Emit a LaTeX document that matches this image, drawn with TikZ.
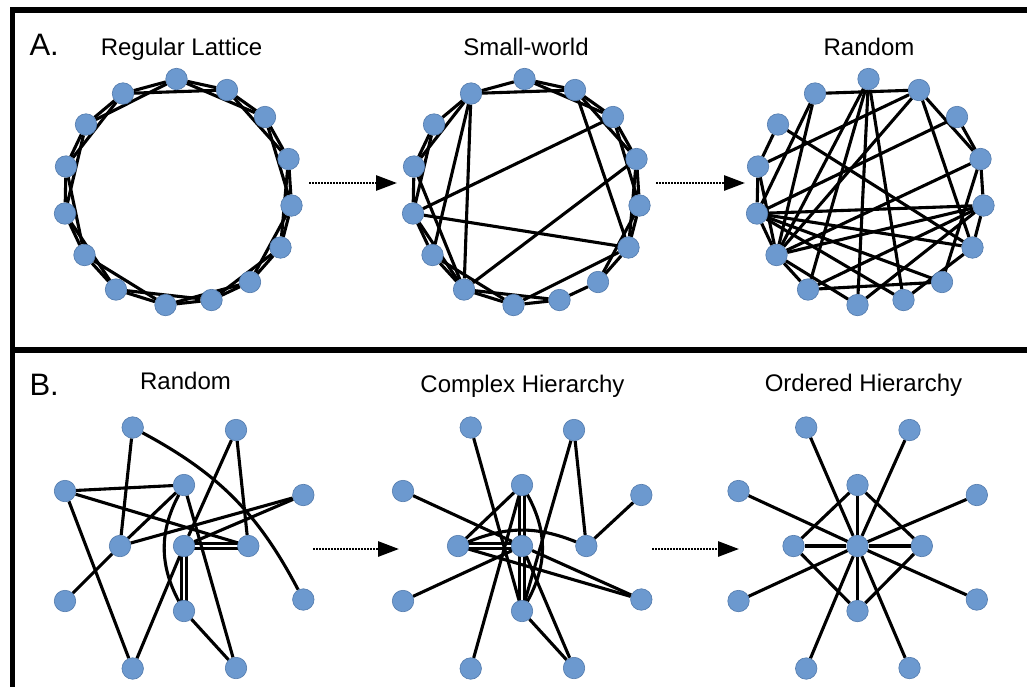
\documentclass[tikz,border=0pt]{standalone}
\usepackage{fontspec}
\setmainfont{Liberation Sans}
\usetikzlibrary{arrows.meta}
\pgfdeclarelayer{edges}
\pgfsetlayers{edges,main}
\definecolor{nodefill}{RGB}{108,153,207}
\definecolor{nodeline}{RGB}{82,122,172}
\begin{document}
\begin{tikzpicture}[x=1pt,y=-1pt,
  vert/.style={circle,fill=nodefill,draw=nodeline,line width=0.6pt,minimum size=21.5pt,inner sep=0pt},
  link/.style={line width=3.1pt,black},
  title/.style={font=\fontsize{24}{28}\selectfont,anchor=base},
  panel/.style={font=\fontsize{31}{36}\selectfont,anchor=base west},
  frame/.style={line width=5.5pt,black,line join=miter},
  flow/.style={line width=2.8pt,dash pattern=on 1.5pt off 1.5pt,-{Triangle[length=21pt,width=15pt]}}]
\useasboundingbox (0,0) rectangle (1027,686);
% frame
\coordinate (f1) at (12.5,700);
\coordinate (f2) at (12.5,10);
\coordinate (f3) at (1040,10);
\coordinate (f4) at (12.5,350);
\coordinate (f5) at (1040,350);
\draw[frame] (f1) -- (f2) -- (f3);
\draw[frame] (f4) -- (f5);
% labels
\node[panel] (lA) at (26,55) {A.};
\node[panel] (lB) at (26,395) {B.};
\node[title] (t1) at (181.5,55) {Regular Lattice};
\node[title] (t2) at (526,55) {Small-world};
\node[title] (t3) at (869,55) {Random};
\node[title] (t4) at (185.5,389) {Random};
\node[title] (t5) at (522.5,392) {Complex Hierarchy};
\node[title] (t6) at (863.5,391) {Ordered Hierarchy};
% arrows
\coordinate (p1) at (309,183); \coordinate (q1) at (397,183);
\coordinate (p2) at (656,183); \coordinate (q2) at (745,183);
\coordinate (p3) at (313,549); \coordinate (q3) at (399,549);
\coordinate (p4) at (652,549); \coordinate (q4) at (739,549);
\draw[flow] (p1) -- (q1);
\draw[flow] (p2) -- (q2);
\draw[flow] (p3) -- (q3);
\draw[flow] (p4) -- (q4);
% ring nodes
\foreach \i/\x/\y in {0/176.5/79, 1/227/90, 2/265/117, 3/288.5/159, 4/291.5/205.5,
  5/280.5/247.5, 6/250/282, 7/211.5/300, 8/165.5/305, 9/116/289.5, 10/84.5/255,
  11/65/213.5, 12/66/166.5, 13/86/124.5, 14/123/93.5} {
  \node[vert] (a\i) at (\x,\y) {};
  \node[vert] (b\i) at (\x+348,\y) {};
  \node[vert] (c\i) at (\x+692,\y) {};
}
% hierarchy nodes
\foreach \p/\s in {d/0, e/338, f/673.5} {
  \foreach \n/\x/\y in {TL/132.7/427.5, TR/236/430, L/65/491, T/184/485, R/303.3/495,
    ML/120/546, C/184/546, MR/248.3/546, BLL/65/601, B/184/611, BRR/303.3/599.5,
    BL/132.7/668.5, BR/236/668} {
    \node[vert] (\p\n) at (\x+\s,\y) {};
  }
}
\begin{pgfonlayer}{edges}
% regular lattice
\foreach \i in {0,...,14} {
  \pgfmathtruncatemacro\j{mod(\i+1,15)}
  \pgfmathtruncatemacro\k{mod(\i+2,15)}
  \draw[link] (a\i) -- (a\j);
  \draw[link] (a\i) -- (a\k);
}
% small world
\foreach \u/\v in {0/1,1/2,2/3,3/4,4/5,5/6,6/7,7/8,8/9,9/10,10/11,11/12,12/13,13/14,14/0,
  0/2,1/3,2/4,3/5,4/6,7/9,8/10,9/11,11/13,12/14,14/1,
  14/9,14/10,12/9,11/2,11/5,3/9,1/5,5/8} {
  \draw[link] (b\u) -- (b\v);
}
% random
\foreach \u/\v in {14/1,14/10,14/11,13/12,13/5,12/11,12/10,12/1,11/10,11/2,11/4,11/5,
  11/6,11/7,10/0,10/1,10/3,10/4,10/9,10/8,9/6,9/4,0/8,0/7,0/9,1/3,1/5,2/3,3/6,3/4,
  4/5,4/8,5/7} {
  \draw[link] (c\u) -- (c\v);
}
% B random
\draw[link] (dTL) -- (dML);
\draw[link] (dTL) to[bend left=17] (dBRR);
\draw[link] (dTR) -- (dMR);
\draw[link] (dTR) -- (dC);
\draw[link] (dL) -- (dT);
\draw[link] (dL) -- (dMR);
\draw[link] (dL) -- (dBL);
\draw[link] (dT) -- (dML);
\draw[link] (dT) to[bend right=28] (dB);
\draw[link] (dT) -- (dBR);
\draw[link] (dR) -- (dML);
\draw[link] (dR) -- (dC);
\draw[link] (dML) -- (dBLL);
\draw[link] ([yshift=-2.2pt]dC.center) -- ([yshift=-2.2pt]dMR.center);
\draw[link] ([yshift=2.2pt]dC.center) -- ([yshift=2.2pt]dMR.center);
\draw[link] ([xshift=-2.2pt]dC.center) -- ([xshift=-2.2pt]dB.center);
\draw[link] ([xshift=2.2pt]dC.center) -- ([xshift=2.2pt]dB.center);
\draw[link] (dC) -- (dBL);
\draw[link] (dB) -- (dBR);
% B complex hierarchy
\draw[link] (eTL) -- (eB);
\draw[link] (eTR) -- (eMR);
\draw[link] (eTR) -- (eB);
\draw[link] (eL) -- (eC);
\draw[link] (eR) -- (eMR);
\draw[link] (eBLL) -- (eC);
\draw[link] (eBL) -- (eT);
\draw[link] (eBR) -- (eB);
\draw[link] (eBR) -- (eC);
\draw[link] (eML) -- (eT);
\draw[link] ([yshift=-2.5pt]eML.center) -- ([yshift=-2.5pt]eC.center);
\draw[link] ([yshift=2.5pt]eML.center) -- ([yshift=2.5pt]eC.center);
\draw[link] (eML) to[bend left=22] (eMR);
\draw[link] (eML) -- (eBRR);
\draw[link] (eC) -- (eBRR);
\draw[link] ([xshift=-2.5pt]eT.center) -- ([xshift=-2.5pt]eC.center);
\draw[link] ([xshift=2.5pt]eT.center) -- ([xshift=2.5pt]eC.center);
\draw[link] ([xshift=-2.5pt]eC.center) -- ([xshift=-2.5pt]eB.center);
\draw[link] ([xshift=2.5pt]eC.center) -- ([xshift=2.5pt]eB.center);
\draw[link] (eT) to[bend left=29] (eB);
% B ordered hierarchy
\foreach \n in {TL,TR,L,T,R,ML,MR,BLL,B,BRR,BL,BR} {
  \draw[link] (fC) -- (f\n);
}
\draw[link] (fT) -- (fML);
\draw[link] (fT) -- (fMR);
\draw[link] (fB) -- (fML);
\draw[link] (fB) -- (fMR);
\end{pgfonlayer}
\end{tikzpicture}
\end{document}
